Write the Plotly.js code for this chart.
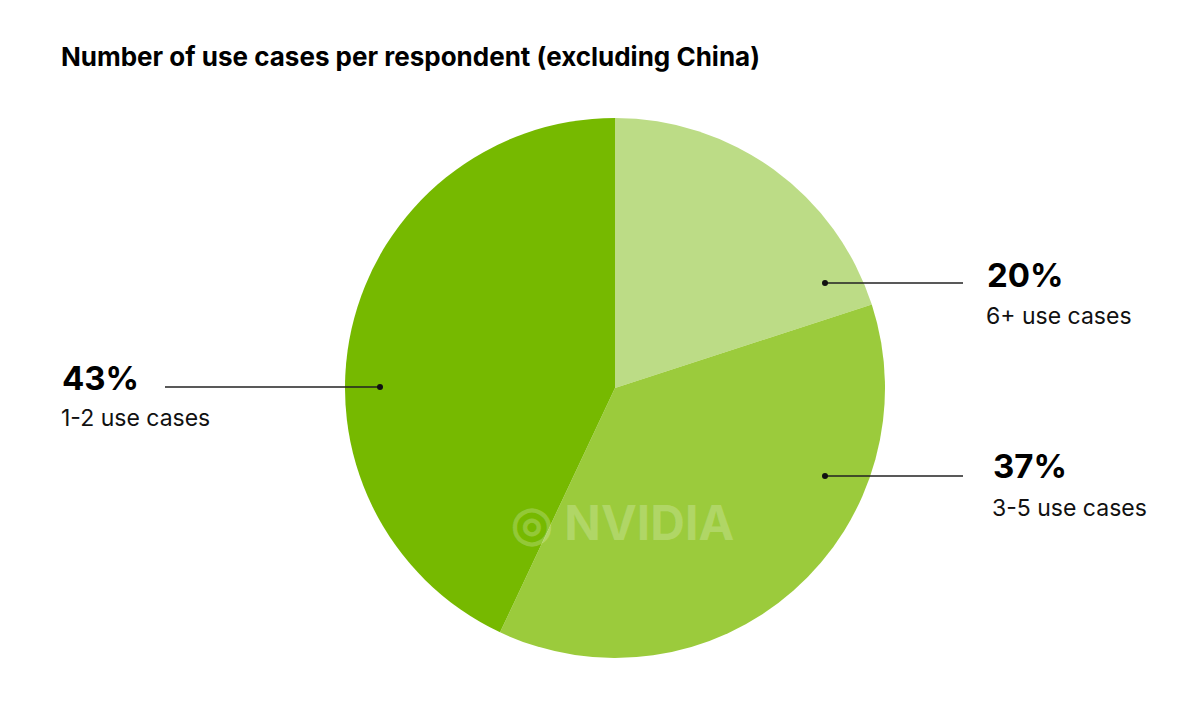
<!DOCTYPE html>
<html>
<head>
<meta charset="utf-8">
<script src="https://cdn.plot.ly/plotly-3.0.1.min.js"></script>
<style>html,body{margin:0;padding:0;background:#fff;}#chart{width:1200px;height:706px;}</style>
</head>
<body>
<div id="chart"></div>
<script>
const categories = ["6+ use cases", "3-5 use cases", "1-2 use cases"];
const shares = [20, 37, 43];
const percentLabels = ["20%", "37%", "43%"];
const sliceColors = ["#bcdc86", "#9bcb3c", "#76b900"];

const W = 1200, H = 706;
const px = x => x / W;
const py = y => 1 - y / H;

const trace = {
  type: "pie",
  labels: categories,
  values: shares,
  sort: false,
  direction: "clockwise",
  rotation: 0,
  textinfo: "none",
  hoverinfo: "label+percent",
  marker: { colors: sliceColors, line: { width: 0 } },
  domain: { x: [px(345), px(885)], y: [py(658), py(118)] },
  showlegend: false
};

const labelPos = [
  { tx: 985, ty: 275, sy: 316, lx0: 825, lx1: 963, ly: 283 },
  { tx: 991, ty: 466, sy: 508, lx0: 825, lx1: 963, ly: 476 },
  { tx: 60,  ty: 378, sy: 418, lx0: 165, lx1: 380, ly: 387, dotRight: true }
];

const annotations = [];
const shapes = [];
categories.forEach((c, i) => {
  const p = labelPos[i];
  annotations.push({
    xref: "paper", yref: "paper", x: px(p.tx), y: py(p.ty),
    xanchor: "left", yanchor: "middle", showarrow: false,
    text: "<b>" + percentLabels[i] + "</b>",
    font: { family: "Inter, Roboto, sans-serif", size: 33, color: "#000" }
  });
  annotations.push({
    xref: "paper", yref: "paper", x: px(p.tx - 1), y: py(p.sy),
    xanchor: "left", yanchor: "middle", showarrow: false,
    text: c,
    font: { family: "Inter, Roboto, sans-serif", size: 23, color: "#111" }
  });
  shapes.push({
    type: "line", xref: "paper", yref: "paper",
    x0: px(p.lx0), x1: px(p.lx1), y0: py(p.ly), y1: py(p.ly),
    line: { color: "#222", width: 1.3 }
  });
  const dx = p.dotRight ? p.lx1 : p.lx0;
  shapes.push({
    type: "circle", xref: "paper", yref: "paper",
    x0: px(dx - 3), x1: px(dx + 3), y0: py(p.ly + 3), y1: py(p.ly - 3),
    fillcolor: "#111", line: { width: 0 }
  });
});

// watermark
annotations.push({
  xref: "paper", yref: "paper", x: px(622), y: py(522),
  xanchor: "center", yanchor: "middle", showarrow: false,
  text: "<b>◎ NVIDIA</b>",
  font: { family: "Inter, Roboto, sans-serif", size: 48, color: "rgba(255,255,255,0.22)" }
});

const layout = {
  width: W, height: H,
  margin: { l: 0, r: 0, t: 0, b: 0 },
  paper_bgcolor: "#fff",
  title: {
    text: "<b>Number of use cases per respondent (excluding China)</b>",
    font: { family: "Inter, Roboto, sans-serif", size: 26, color: "#000" },
    x: px(61), xanchor: "left", xref: "paper",
    y: py(57), yanchor: "middle", yref: "paper"
  },
  annotations: annotations,
  shapes: shapes
};

Plotly.newPlot("chart", [trace], layout, { displayModeBar: false, staticPlot: true });
</script>
</body>
</html>
